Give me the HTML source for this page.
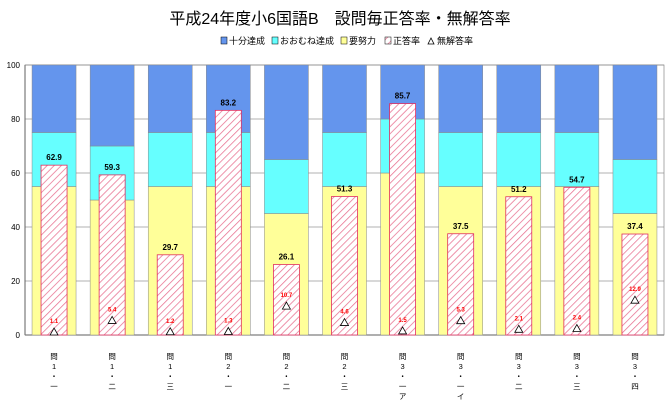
<!DOCTYPE html>
<html><head><meta charset="utf-8"><style>
body{margin:0;background:#fff;font-family:"Liberation Sans","Noto Sans CJK JP",sans-serif}
</style></head><body>
<svg id="c" width="667" height="404" xmlns="http://www.w3.org/2000/svg">
<defs><pattern id="hatch" patternUnits="userSpaceOnUse" width="5" height="5" patternTransform="rotate(45)"><rect width="5" height="5" fill="#fff"/><line x1="0" y1="0" x2="0" y2="5" stroke="#e87090" stroke-width="1.5"/></pattern></defs>
<text x="340" y="24" text-anchor="middle" font-size="16" fill="#000">平成24年度小6国語B　設問毎正答率・無解答率</text>
<g font-size="9">
<rect x="221" y="37" width="6" height="7" fill="#6495ed" stroke="#000" stroke-width="0.5"/><text x="229" y="44">十分達成</text>
<rect x="272" y="37" width="6" height="7" fill="#66ffff" stroke="#000" stroke-width="0.5"/><text x="280" y="44">おおむね達成</text>
<rect x="341" y="37" width="6" height="7" fill="#ffff99" stroke="#000" stroke-width="0.5"/><text x="349" y="44">要努力</text>
<rect x="385" y="37" width="6" height="7" fill="url(#hatch)" stroke="#000" stroke-width="0.5"/><text x="393" y="44">正答率</text>
<path d="M428 44 L431 38 L434 44 Z" fill="none" stroke="#000" stroke-width="0.8"/><text x="437" y="44">無解答率</text>
</g>
<g id="plot"></g>
</svg>
<script>
const cats=[["問","1","・","一"],["問","1","・","二"],["問","1","・","三"],["問","2","・","一"],["問","2","・","二"],["問","2","・","三"],["問","3","・","一","ア"],["問","3","・","一","イ"],["問","3","・","二"],["問","3","・","三"],["問","3","・","四"]];
const low=[55,50,55,55,45,55,60,55,55,55,45];
const mid=[20,20,20,20,20,20,20,20,20,20,20];
const high=[25,30,25,25,35,25,20,25,25,25,35];
const correct=[62.9,59.3,29.7,83.2,26.1,51.3,85.7,37.5,51.2,54.7,37.4];
const noans=[1.1,5.4,1.2,1.3,10.7,4.6,1.5,5.3,2.1,2.4,12.9];
const yTicks=[0,20,40,60,80,100];
const NS="http://www.w3.org/2000/svg";
const g=document.getElementById('plot');
const x0=25,x1=664,yT=65,yB=335;
const y=v=>yB-(yB-yT)*v/100;
const step=(x1-x0)/cats.length;
const cx=i=>x0+step*(i+0.5);
function mk(t,a,p){const e=document.createElementNS(NS,t);for(const k in a)e.setAttribute(k,a[k]);(p||g).appendChild(e);return e;}
yTicks.forEach(t=>{
  const l=mk('line',{x1:x0,x2:x1,y1:y(t),y2:y(t),stroke:t==0?'#000':'#999','stroke-width':t==0?1:0.7});
  
  
  const tx=mk('text',{x:x0-5,y:y(t)+3,'text-anchor':'end','font-size':8});
  tx.textContent=t;
  
  
});
mk('line',{x1:x0,x2:x0,y1:yT,y2:yB,stroke:'#000','stroke-width':1});
mk('rect',{x:x0,y:yT,width:x1-x0,height:yB-yT,fill:'none',stroke:'#888','stroke-width':0.7});
cats.forEach((c,i)=>{
  const bw=44,bx=cx(i)-bw/2;
  const segs=[[0,low[i],'#ffff99','band-low'],[low[i],low[i]+mid[i],'#66ffff','band-mid'],[low[i]+mid[i],low[i]+mid[i]+high[i],'#6495ed','band-high']];
  segs.forEach(s=>{
    const r=mk('rect',{x:bx,y:y(s[1]),width:bw,height:y(s[0])-y(s[1]),fill:s[2],stroke:'#888','stroke-width':0.5});
    
    
  });
  const pw=26;
  const p=mk('rect',{x:cx(i)-pw/2,y:y(correct[i]),width:pw,height:yB-y(correct[i]),fill:'url(#hatch)',stroke:'#e03060','stroke-width':0.8});
  
  
  const cl=mk('text',{x:cx(i),y:y(correct[i])-5,'text-anchor':'middle','font-size':8,'font-weight':'bold'});
  cl.textContent=correct[i];
  
  
  const ty=y(noans[i]);
  const tr=mk('path',{d:`M${cx(i)-4} ${ty+3} L${cx(i)} ${ty-4} L${cx(i)+4} ${ty+3} Z`,fill:'#fff',stroke:'#000','stroke-width':0.8});
  
  
  const nl=mk('text',{x:cx(i),y:ty-9,'text-anchor':'middle','font-size':6,fill:'#f00','font-weight':'bold'});
  nl.textContent=noans[i];
  
  
  c.forEach((ch,j)=>{
    const t=mk('text',{x:cx(i),y:359+j*10,'text-anchor':'middle','font-size':7.5});
    t.textContent=ch;
    
    
  });
});
</script>
</body></html>
